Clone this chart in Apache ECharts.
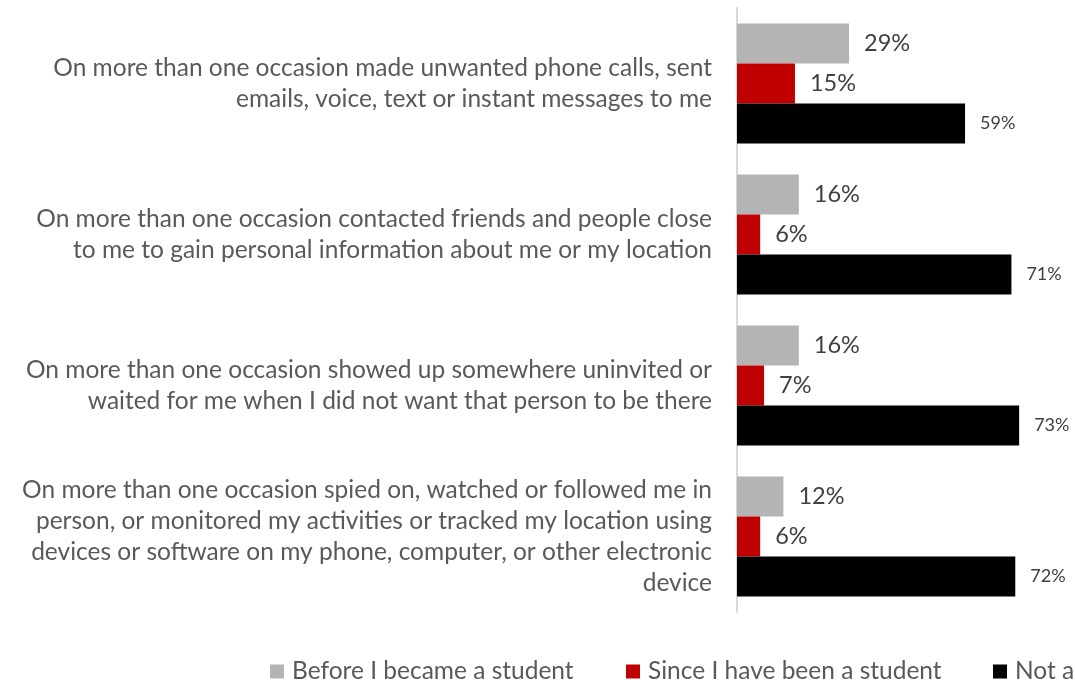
<!DOCTYPE html>
<html>
<head>
<meta charset="utf-8">
<script src="https://cdn.jsdelivr.net/npm/echarts@6/dist/echarts.min.js"></script>
<style>
  html, body { margin: 0; padding: 0; background: #fff; }
  #chart { width: 1075px; height: 680px; }
</style>
</head>
<body>
<div id="chart"></div>
<script>
var categories = [
  "On more than one occasion made unwanted phone calls, sent\nemails, voice, text or instant messages to me",
  "On more than one occasion contacted friends and people close\nto me to gain personal information about me or my location",
  "On more than one occasion showed up somewhere uninvited or\nwaited for me when I did not want that person to be there",
  "On more than one occasion spied on, watched or followed me in\nperson, or monitored my activities or tracked my location using\ndevices or software on my phone, computer, or other electronic\ndevice"
];
var seriesNames = ["Before I became a student", "Since I have been a student", "Not applicable"];
var beforeStudent = [29, 16, 16, 12];
var sinceStudent = [15, 6, 7, 6];
var notApplicable = [59, 71, 73, 72];

var font = "Lato";
var chart = echarts.init(document.getElementById("chart"));

function bar(name, data, color, size) {
  return {
    type: "bar",
    name: name,
    data: data,
    barWidth: 40,
    barGap: "0%",
    itemStyle: { color: color },
    label: {
      show: true,
      position: "right",
      distance: 15,
      formatter: "{c}%",
      color: "#404040",
      fontFamily: font,
      fontSize: size
    }
  };
}

function legend(name, left) {
  return {
    data: [name],
    left: left,
    top: 654,
    itemWidth: 14,
    itemHeight: 14,
    icon: "rect",
    textStyle: { color: "#595959", fontFamily: font, fontSize: 24.5, padding: [0, 0, 0, 3] }
  };
}

chart.setOption({
  animation: false,
  grid: { left: 737, top: 8, right: 0, height: 604 },
  xAxis: {
    type: "value", min: 0, max: 87.45, show: false
  },
  yAxis: {
    type: "category",
    data: categories,
    inverse: true,
    axisLine: { lineStyle: { color: "#d9d9d9", width: 2 } },
    axisTick: { show: false },
    axisLabel: {
      margin: 25,
      color: "#595959",
      fontFamily: font,
      fontSize: 24.5,
      lineHeight: 31,
      align: "right"
    }
  },
  legend: [
    legend(seriesNames[0], 265),
    legend(seriesNames[1], 621),
    legend(seriesNames[2], 988)
  ],
  series: [
    bar(seriesNames[0], beforeStudent, "#b4b4b4", 23.5),
    bar(seriesNames[1], sinceStudent, "#c00000", 23.5),
    bar(seriesNames[2], notApplicable, "#000000", 18)
  ]
});
</script>
</body>
</html>
